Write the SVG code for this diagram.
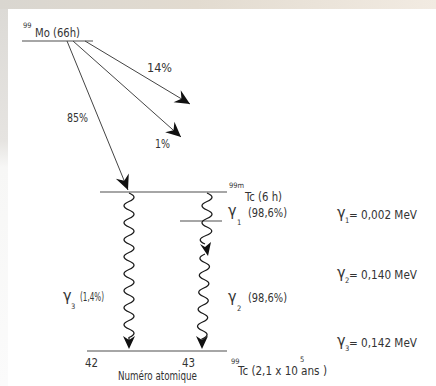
<svg xmlns="http://www.w3.org/2000/svg" width="436" height="386" viewBox="0 0 436 386">
<defs>
<linearGradient id="topg" x1="0" y1="0" x2="1" y2="0">
<stop offset="0" stop-color="#d9d6d0"/><stop offset="0.45" stop-color="#e2dbd0"/><stop offset="1" stop-color="#f2ebe2"/>
</linearGradient>
<linearGradient id="leftg" x1="0" y1="0" x2="0" y2="1">
<stop offset="0" stop-color="#dcdad6"/><stop offset="0.35" stop-color="#e6e4e1"/><stop offset="0.42" stop-color="#f7f7f6"/><stop offset="1" stop-color="#fbfbfb"/>
</linearGradient>
<marker id="ah" markerUnits="userSpaceOnUse" markerWidth="20" markerHeight="20" viewBox="-16 -10 20 20" refX="0" refY="0" orient="auto">
<path d="M0,0 L-15,-7 L-10,0 L-15,7 Z" fill="#111"/>
</marker>
</defs>
<style>
text{font-family:"DejaVu Sans Condensed","Liberation Sans Narrow","Liberation Sans",sans-serif;fill:#333}
.t{font-size:12px}
.s{font-size:7.5px}
.g{font-size:16px}
.lvl{stroke:#888;stroke-width:1.6;fill:none}
.arr{stroke:#444;stroke-width:1;fill:none}
.wav{stroke:#1a1a1a;stroke-width:1.3;fill:none}
.head{fill:#111}
</style>
<rect x="0" y="0" width="436" height="386" fill="#ffffff"/>
<rect x="0" y="0" width="436" height="9" fill="url(#topg)"/>
<rect x="0" y="9" width="8" height="377" fill="url(#leftg)"/>

<g id="mo">
<line class="lvl" x1="22" y1="41" x2="93" y2="41"/>
<text class="s" x="23" y="28">99</text>
<text class="t" x="35" y="37" textLength="45" lengthAdjust="spacingAndGlyphs">Mo (66h)</text>
</g>

<g id="tc99m">
<line class="lvl" x1="100" y1="192" x2="227" y2="192"/>
<text class="s" x="229" y="188">99m</text>
<text class="t" x="245" y="201" textLength="37" lengthAdjust="spacingAndGlyphs">Tc (6 h)</text>
</g>

<g id="level1">
<line class="lvl" x1="180" y1="221" x2="222" y2="221"/>
<text class="g" x="228" y="216">γ</text>
<text class="s" x="237" y="225">1</text>
<text class="t" x="248" y="217" textLength="39" lengthAdjust="spacingAndGlyphs">(98,6%)</text>
</g>

<g id="tc99">
<line class="lvl" x1="87" y1="351" x2="227" y2="351"/>
<text class="s" x="231" y="364">99</text>
<text class="t" x="238" y="375" textLength="60" lengthAdjust="spacingAndGlyphs">Tc (2,1 x 10</text>
<text class="s" x="300" y="362">5</text>
<text class="t" x="301" y="375" textLength="26" lengthAdjust="spacingAndGlyphs">ans )</text>
</g>

<g id="axis">
<text class="t" x="85" y="367" textLength="13" lengthAdjust="spacingAndGlyphs">42</text>
<text class="t" x="182" y="367" textLength="13" lengthAdjust="spacingAndGlyphs">43</text>
<text class="t" x="118" y="380" textLength="79" lengthAdjust="spacingAndGlyphs">Numéro atomique</text>
</g>

<g id="energies">
<text class="g" x="337" y="218">γ</text><text class="s" x="345" y="223">1</text><text class="t" x="349" y="219" textLength="68" lengthAdjust="spacingAndGlyphs">= 0,002 MeV</text>
<text class="g" x="337" y="278">γ</text><text class="s" x="345" y="283">2</text><text class="t" x="349" y="279" textLength="68" lengthAdjust="spacingAndGlyphs">= 0,140 MeV</text>
<text class="g" x="337" y="346">γ</text><text class="s" x="345" y="351">3</text><text class="t" x="349" y="347" textLength="68" lengthAdjust="spacingAndGlyphs">= 0,142 MeV</text>
</g>

<g id="labels">
<text class="t" x="147" y="72" textLength="25" lengthAdjust="spacingAndGlyphs">14%</text>
<text class="t" x="67" y="122" textLength="21" lengthAdjust="spacingAndGlyphs">85%</text>
<text class="t" x="155" y="148" textLength="15" lengthAdjust="spacingAndGlyphs">1%</text>
<text class="g" x="63" y="301">γ</text><text class="s" x="71" y="309">3</text><text class="t" x="80" y="301" textLength="24" lengthAdjust="spacingAndGlyphs">(1,4%)</text>
<text class="g" x="228" y="302">γ</text><text class="s" x="237" y="311">2</text><text class="t" x="248" y="302" textLength="39" lengthAdjust="spacingAndGlyphs">(98,6%)</text>
</g>

<g id="connectors">
<line class="arr" x1="67" y1="41" x2="128" y2="190" marker-end="url(#ah)"/>
<line class="arr" x1="85" y1="41" x2="190" y2="104" marker-end="url(#ah)"/>
<line class="arr" x1="73" y1="41" x2="181" y2="137" marker-end="url(#ah)"/>

<path class="wav" d="M129,193 q10,4.25 0,8.5 t0,8.5 t0,8.5 t0,8.5 t0,8.5 t0,8.5 t0,8.5 t0,8.5 t0,8.5 t0,8.5 t0,8.5 t0,8.5 t0,8.5 t0,8.5 t0,8.5 t0,8.5 t0,8.5 l0,6"/>
<path class="head" d="M129,349 L123,336 L129,340 L135,336 Z"/>

<path class="wav" d="M207,193 q10,4.25 0,8.5 t0,8.5 t0,8.5 t0,8.5 t-1,8.5 t-1,8.5"/>
<path class="head" d="M208,256 L200,244 L205,247 L211,242 Z"/>
<path class="wav" d="M205,254 q-10,4.25 -0.3,8.5 t-0.3,8.5 t-0.3,8.5 t-0.3,8.5 t-0.3,8.5 t-0.3,8.5 t-0.3,8.5 t-0.3,8.5 t-0.3,8.5 t-0.3,8.5 l0,2"/>
<path class="head" d="M202,349 L196,336 L202,340 L208,336 Z"/>
</g>
</svg>
